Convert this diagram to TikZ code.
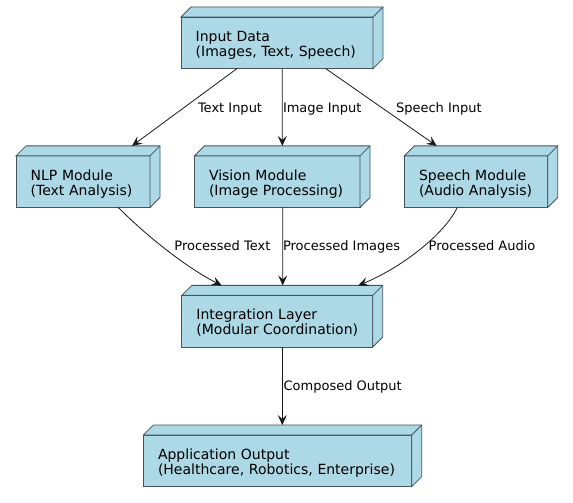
\documentclass[tikz,border=0pt]{standalone}
\usepackage{fontspec}
\setmainfont{DejaVu Sans}
\usetikzlibrary{arrows.meta,calc}
\definecolor{boxfill}{HTML}{ADD8E6}
\definecolor{boxline}{HTML}{44545A}
\definecolor{arrline}{HTML}{181818}
\newcommand{\twol}[2]{\mbox{\rule{0pt}{14.7pt}#1}\\\mbox{#2\rule[-3pt]{0pt}{3pt}}}
\newcommand{\cubeside}[1]{%
  \filldraw[fill=boxfill,draw=boxline,line width=0.8pt,line join=miter]
    (#1.north west) -- ++(10,10) -- ([shift={(10,10)}]#1.north east)
    -- ([shift={(10,10)}]#1.south east) -- (#1.south east) -- (#1.north east) -- cycle;
  \draw[boxline,line width=0.8pt] (#1.north east) -- ++(10,10);}
\tikzset{
  face/.style={draw=boxline,fill=boxfill,line width=0.8pt,rectangle,
    minimum height=51.6pt,inner xsep=14.7pt,inner ysep=0pt,outer sep=0pt,
    align=left,font=\fontsize{14pt}{15pt}\selectfont,text=black},
  lbl/.style={anchor=base west,inner sep=0pt,outer sep=0pt,
    font=\fontsize{13pt}{15pt}\selectfont,text=black},
  arr/.style={draw=arrline,line width=0.8pt,
    -{Stealth[length=10pt,width=9pt,inset=4pt]}}
}
\begin{document}
\begin{tikzpicture}[x=1pt,y=1pt]
\useasboundingbox (0,0) rectangle (573,503);
% nodes (front faces)
\node[face,text width=192pt-29.4pt,minimum width=192pt] (in) at (277,460.2)
  {\twol{Input Data}{(Images, Text, Speech)}};
\node[face,text width=134pt-29.4pt,minimum width=134pt] (nlp) at (83,321.3)
  {\twol{NLP Module}{(Text Analysis)}};
\node[face,text width=165.7pt-29.4pt,minimum width=165.7pt] (vis) at (277.15,321.3)
  {\twol{Vision Module}{(Image Processing)}};
\node[face,text width=143.4pt-29.4pt,minimum width=143.4pt] (sp) at (476,321.3)
  {\twol{Speech Module}{(Audio Analysis)}};
\node[face,text width=191pt-29.4pt,minimum width=191pt] (int) at (277.2,181.8)
  {\twol{Integration Layer}{(Modular Coordination)}};
\node[face,text width=268.4pt-29.4pt,minimum width=268.4pt] (app) at (277.5,42.15)
  {\twol{Application Output}{(Healthcare, Robotics, Enterprise)}};
\cubeside{in}
\cubeside{nlp}
\cubeside{vis}
\cubeside{sp}
\cubeside{int}
\cubeside{app}
% connectors
\draw[arr] ([xshift=-40pt]in.south) -- ([shift={(49,10)}]nlp.north);
\draw[arr] ([xshift=5.2pt]in.south) -- ([shift={(5.15,10)}]vis.north);
\draw[arr] ([xshift=48.7pt]in.south) -- ([shift={(-39.3,10)}]sp.north);
\draw[arr] ([xshift=35.3pt]nlp.south) .. controls +(30,-30) and +(-34,17) .. ([shift={(-55.5,10)}]int.north);
\draw[arr] ([xshift=5.5pt]vis.south) -- ([shift={(5.5,10)}]int.north);
\draw[arr] ([xshift=-18.7pt]sp.south) .. controls +(-16,-32) and +(35,14) .. ([shift={(81.1,10)}]int.north);
\draw[arr] ([xshift=5.1pt]int.south) -- ([shift={(4.8,10)}]app.north);
% labels
\node[lbl] (l1) at (198,390.7) {Text Input};
\node[lbl] (l2) at (283,390.7) {Image Input};
\node[lbl] (l3) at (396,390.7) {Speech Input};
\node[lbl] (l4) at (174.4,252.3) {Processed Text};
\node[lbl] (l5) at (283,252.3) {Processed Images};
\node[lbl] (l6) at (428.7,252.3) {Processed Audio};
\node[lbl] (l7) at (283.6,112) {Composed Output};
\end{tikzpicture}
\end{document}
